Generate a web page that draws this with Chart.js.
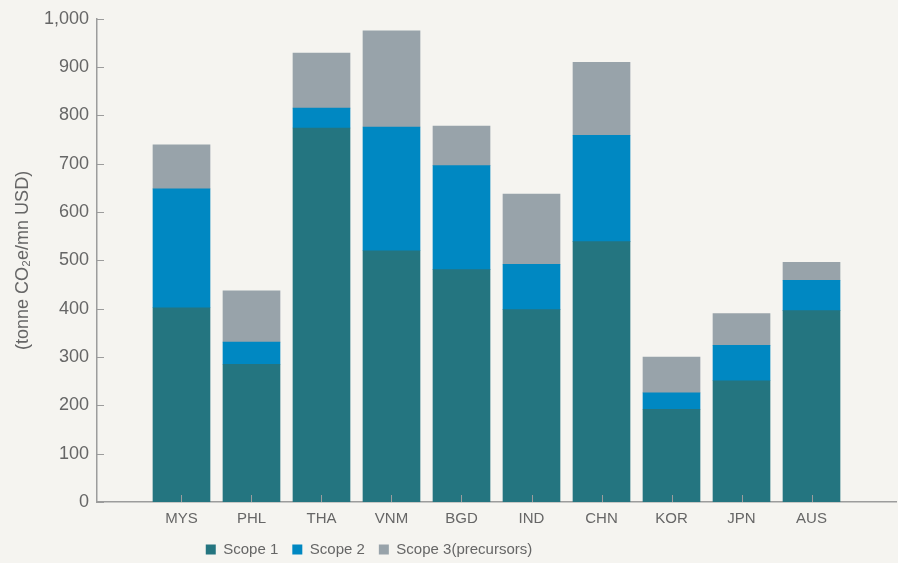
<!DOCTYPE html>
<html><head><meta charset="utf-8">
<script src="https://cdn.jsdelivr.net/npm/chart.js@4.4.1/dist/chart.umd.min.js"></script>
<style>html,body{margin:0;padding:0;background:#f5f4f0;overflow:hidden;}</style>
</head><body>
<canvas id="c" width="898" height="563"></canvas>
<script>
const categories = ['MYS','PHL','THA','VNM','BGD','IND','CHN','KOR','JPN','AUS'];
const seriesNames = ['Scope 1','Scope 2','Scope 3(precursors)'];
const scope1 = [402,285,774,520,481,398,539,192,251,396];
const scope2 = [246,46,41,256,215,94,220,34,73,63];
const scope3 = [91,106,114,199,82,145,151,74,66,37];
const yAxisTitle = '(tonne CO\u2082e/mn USD)';

const colors = ['#247580','#0088c2','#98a3aa'];
const axisColor = '#9c9c9c';
const textColor = '#666666';
const narrow = '"Liberation Sans Narrow", "Arial Narrow", "Liberation Sans", sans-serif';
const regular = '"Liberation Sans", Arial, sans-serif';

const toPoints = arr => arr.map((v, i) => ({x: i, y: v}));

const innerTicks = {
  id: 'innerTicks',
  afterDatasetsDraw(chart) {
    const ctx = chart.ctx, y = chart.scales.y, x = chart.scales.x;
    const a = chart.chartArea;
    ctx.save();
    ctx.strokeStyle = axisColor;
    ctx.lineWidth = 1;
    y.ticks.forEach(t => {
      const py = Math.round(y.getPixelForValue(t.value)) + 0.5;
      ctx.beginPath(); ctx.moveTo(a.left, py); ctx.lineTo(a.left + 7, py); ctx.stroke();
    });
    x.ticks.forEach(t => {
      const px = Math.round(x.getPixelForValue(t.value)) + 0.5;
      ctx.beginPath(); ctx.moveTo(px, a.bottom); ctx.lineTo(px, a.bottom - 7); ctx.stroke();
    });
    ctx.restore();
  },
  beforeDraw(chart) {
    const lg = chart.legend;
    if (lg) {
      lg.left = -80; lg.right = 818;
      lg.top = 528; lg.bottom = 563;
    }
  }
};

new Chart(document.getElementById('c'), {
  type: 'bar',
  data: {
    datasets: [
      {label: seriesNames[0], data: toPoints(scope1), backgroundColor: colors[0]},
      {label: seriesNames[1], data: toPoints(scope2), backgroundColor: colors[1]},
      {label: seriesNames[2], data: toPoints(scope3), backgroundColor: colors[2]}
    ]
  },
  options: {
    responsive: false,
    animation: false,
    layout: {padding: {top: 18, right: 2, left: 0, bottom: 0}},
    datasets: {bar: {barThickness: 57}},
    scales: {
      x: {
        type: 'linear',
        stacked: true,
        offset: false,
        bounds: 'data',
        min: -1.207,
        max: 10.207,
        afterBuildTicks: s => { s.ticks = categories.map((_, i) => ({value: i})); },
        afterFit: s => { s.height = 35; },
        grid: {display: false, drawTicks: false},
        border: {display: true, color: axisColor, width: 1.5},
        ticks: {
          autoSkip: false, maxRotation: 0, padding: 8,
          color: textColor, font: {family: narrow, size: 15},
          callback: v => categories[v] !== undefined ? categories[v] : ''
        }
      },
      y: {
        stacked: true,
        min: 0, max: 1000,
        afterFit: s => { s.width = 97; },
        grid: {display: false, drawTicks: false},
        border: {display: true, color: axisColor, width: 1.5},
        ticks: {stepSize: 100, padding: 8, color: textColor, font: {family: regular, size: 18}},
        title: {display: true, text: yAxisTitle, color: textColor, font: {family: regular, size: 18}, padding: {top: 12, bottom: 0}}
      }
    },
    plugins: {
      legend: {
        position: 'bottom',
        maxHeight: 26,
        labels: {boxWidth: 10, boxHeight: 10, padding: 14, color: textColor, font: {family: narrow, size: 15}}
      },
      tooltip: {enabled: false}
    }
  },
  plugins: [innerTicks]
});
</script>
</body></html>
